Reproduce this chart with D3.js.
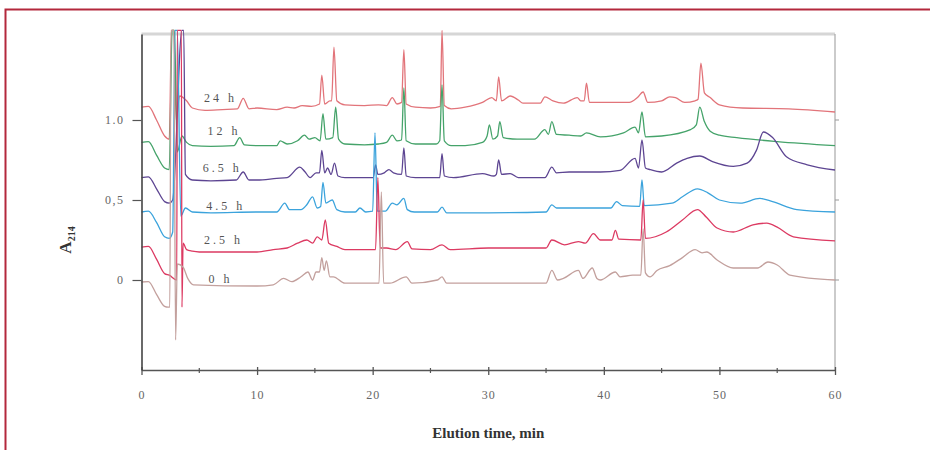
<!DOCTYPE html>
<html>
<head>
<meta charset="utf-8">
<script src="https://cdn.jsdelivr.net/npm/d3@7"></script>
<style>
  body { margin: 0; background: #fff; }
  svg { display: block; font-family: "Liberation Serif", "Times New Roman", serif; }
</style>
</head>
<body>
<div id="chart"></div>
<script>
// [elution time (min), A214]
const trace24h = [
  [0,1.08],[0.6,1.085],[1.3,1.0],[2.0,0.9],[2.4,0.88],[2.6,1.56],[2.8,1.56],[3.0,1.0],[3.3,1.15],[3.9,1.12],
  [4.4,1.075],[5.5,1.06],[7.0,1.065],[8.3,1.07],[8.8,1.135],[9.3,1.07],[10,1.075],[11.7,1.065],[12.6,1.08],
  [13.2,1.075],[13.9,1.09],[14.7,1.085],[15.4,1.1],[15.6,1.28],[15.85,1.1],[16.3,1.12],[16.45,1.12],[16.65,1.456],
  [16.9,1.12],[17.6,1.094],[19.3,1.09],[20.5,1.095],[21.2,1.09],[21.7,1.14],[22.1,1.1],[22.5,1.11],[22.7,1.44],
  [22.9,1.1],[23.7,1.08],[25.0,1.075],[25.85,1.085],[26.0,1.56],[26.2,1.09],[26.8,1.07],[28,1.08],[29.5,1.11],
  [30.3,1.14],[30.7,1.12],[30.9,1.27],[31.15,1.12],[31.9,1.15],[32.6,1.125],[33.0,1.105],[34.5,1.105],
  [34.9,1.145],[35.6,1.12],[36.5,1.105],[37.7,1.14],[38.0,1.12],[38.3,1.12],[38.5,1.23],[38.75,1.11],[39.7,1.11],
  [42.2,1.11],[42.9,1.14],[43.4,1.175],[43.8,1.11],[45.0,1.12],[45.7,1.145],[46.2,1.14],[47.0,1.11],[47.9,1.12],
  [48.15,1.13],[48.4,1.355],[48.7,1.17],[49.2,1.14],[50.0,1.095],[52,1.075],[56,1.07],[60,1.05]
];
const trace12h = [
  [0,0.86],[0.6,0.865],[1.3,0.78],[2.0,0.7],[2.4,0.69],[2.65,1.56],[2.85,1.56],[3.1,0.8],[3.5,0.9],[3.9,0.86],
  [4.4,0.84],[6,0.835],[8,0.84],[8.5,0.89],[8.9,0.845],[10,0.84],[11.7,0.84],[12.0,0.87],[12.6,0.85],[13.5,0.87],
  [14.1,0.905],[14.5,0.88],[15.0,0.89],[15.45,0.87],[15.7,1.04],[15.95,0.88],[16.55,0.89],[16.8,1.08],[17.05,0.88],
  [17.6,0.85],[19.3,0.845],[20.5,0.85],[21.2,0.86],[21.7,0.905],[22.1,0.87],[22.5,0.875],[22.7,1.2],[22.9,0.87],
  [23.7,0.85],[25.5,0.85],[25.8,0.87],[26.0,1.22],[26.2,0.87],[26.8,0.84],[28,0.84],[29.5,0.86],[29.9,0.9],
  [30.1,0.97],[30.4,0.88],[30.8,0.9],[31.0,0.99],[31.3,0.89],[32.5,0.88],[34.0,0.88],[34.9,0.94],[35.2,0.91],
  [35.5,0.99],[35.9,0.91],[37,0.905],[38,0.9],[38.5,0.92],[39.7,0.895],[41.7,0.92],[42.7,0.955],[43.0,0.92],
  [43.3,1.05],[43.6,0.895],[45,0.9],[47.5,0.94],[48.0,0.97],[48.3,1.08],[48.7,0.99],[49.2,0.93],[50.0,0.905],
  [51.5,0.89],[55,0.865],[60,0.84]
];
const trace6h5 = [
  [0,0.64],[0.6,0.645],[1.3,0.57],[2.0,0.49],[2.4,0.48],[2.7,0.5],[3.5,1.56],[3.65,1.56],[3.8,0.66],[4.4,0.625],
  [6,0.62],[8.2,0.625],[8.8,0.675],[9.3,0.625],[10,0.625],[11.7,0.635],[12.6,0.64],[13.7,0.705],[14.1,0.68],
  [14.6,0.64],[15.1,0.67],[15.4,0.67],[15.6,0.81],[15.85,0.67],[16.1,0.7],[16.4,0.66],[16.7,0.73],[17.0,0.65],
  [17.6,0.64],[20.05,0.64],[20.25,0.72],[20.45,0.66],[21.0,0.67],[21.4,0.69],[21.8,0.67],[22.5,0.66],[22.7,0.825],
  [22.9,0.65],[23.7,0.64],[25.8,0.64],[26.0,0.79],[26.2,0.65],[27,0.64],[29.5,0.665],[30.5,0.65],[30.7,0.66],
  [30.9,0.75],[31.15,0.66],[31.9,0.665],[32.6,0.64],[34.9,0.64],[35.5,0.705],[35.9,0.67],[37,0.675],[39.7,0.675],
  [41.4,0.685],[42.7,0.76],[43.0,0.7],[43.3,0.875],[43.6,0.7],[44.0,0.69],[45.0,0.675],[46.3,0.73],[47.2,0.76],
  [48.3,0.775],[49.4,0.74],[51.2,0.71],[52.4,0.73],[53.2,0.81],[53.8,0.925],[54.6,0.89],[55.8,0.77],[57.6,0.72],
  [60,0.6875]
];
const trace4h5 = [
  [0,0.425],[0.6,0.43],[1.3,0.36],[2.0,0.27],[2.4,0.26],[2.7,0.3],[2.9,1.56],[3.1,1.56],[3.4,0.4],[3.8,0.45],
  [4.4,0.425],[6,0.42],[10,0.425],[11.7,0.425],[12.4,0.48],[12.8,0.44],[13.8,0.44],[14.3,0.47],[14.8,0.52],
  [15.2,0.45],[15.5,0.46],[15.7,0.61],[15.95,0.48],[16.5,0.5],[16.9,0.44],[17.6,0.425],[18.5,0.425],[18.9,0.45],
  [19.4,0.425],[20.0,0.43],[20.2,0.92],[20.4,0.43],[21.1,0.43],[21.7,0.48],[22.1,0.47],[22.7,0.51],[23.0,0.44],
  [23.6,0.425],[25.6,0.425],[26.0,0.455],[26.4,0.42],[30,0.42],[35,0.425],[35.5,0.47],[35.9,0.45],[39.7,0.45],
  [40.6,0.45],[41.1,0.49],[41.6,0.465],[43.1,0.46],[43.3,0.625],[43.5,0.465],[45.9,0.48],[46.8,0.52],[48.1,0.57],
  [49.0,0.545],[50.0,0.5],[51.8,0.48],[53.5,0.51],[54.6,0.49],[56.7,0.44],[60,0.425]
];
const trace2h5 = [
  [0,0.205],[0.6,0.21],[1.3,0.13],[2.0,0.04],[2.4,0.03],[3.05,0.0],[3.1,1.56],[3.45,1.56],[3.5,-0.17],[3.6,0.23],
  [3.9,0.19],[4.4,0.18],[5,0.175],[10,0.175],[11.4,0.19],[12.6,0.2],[13.5,0.23],[14.3,0.25],[14.8,0.23],[15.2,0.27],
  [15.6,0.25],[15.9,0.375],[16.2,0.23],[16.9,0.21],[17.6,0.19],[20.25,0.19],[20.45,0.64],[20.65,0.2],[21.2,0.2],
  [22.0,0.19],[23.0,0.24],[23.4,0.195],[25,0.19],[26.0,0.22],[26.7,0.19],[30,0.2],[35,0.2],[35.5,0.25],[36.6,0.22],
  [37.8,0.24],[38.4,0.23],[39.1,0.29],[39.7,0.25],[40.7,0.25],[41.0,0.31],[41.3,0.255],[43.2,0.25],[43.4,0.5],
  [43.6,0.26],[45.4,0.3],[46.8,0.375],[48.1,0.44],[48.9,0.39],[49.8,0.325],[51.2,0.3],[52.9,0.345],[54.1,0.355],
  [55.0,0.33],[56.4,0.27],[60,0.245]
];
const trace0h = [
  [0,-0.0125],[0.6,-0.01],[1.3,-0.09],[2.0,-0.165],[2.3,-0.17],[2.45,-0.17],[2.55,1.56],[2.8,1.56],[2.95,-0.375],
  [3.1,0.1],[3.6,0.08],[4.0,0.01],[4.5,-0.03],[10,-0.0375],[11.4,-0.03],[12.3,0.01],[13.0,-0.01],[13.8,0.02],
  [14.4,0.05],[14.8,0.0],[15.1,0.05],[15.4,0.05],[15.6,0.14],[15.8,0.06],[16.0,0.12],[16.3,0.02],[16.6,0.02],
  [17.6,-0.02],[20.55,-0.02],[20.75,0.55],[20.95,-0.02],[21.5,-0.02],[22.9,0.02],[23.4,-0.02],[25.6,0.0],[26.0,0.02],
  [26.4,-0.02],[35,-0.02],[35.5,0.06],[36.0,0.0],[36.5,0.01],[37.8,0.06],[38.2,0.01],[39.0,0.075],[39.4,0.01],
  [39.7,0.0],[41.0,0.05],[41.4,0.02],[42.5,0.03],[43.2,0.03],[43.4,0.32],[43.6,0.045],[44.0,0.02],[44.6,0.06],
  [45.7,0.09],[46.8,0.14],[47.9,0.19],[48.5,0.17],[48.9,0.175],[49.8,0.125],[51.2,0.075],[53.3,0.075],[54.2,0.1125],
  [55.0,0.094],[56.1,0.031],[60,0.0]
];

const seriesNames = ["24 h", "12 h", "6.5 h", "4.5 h", "2.5 h", "0 h"];
const seriesTraces = [trace24h, trace12h, trace6h5, trace4h5, trace2h5, trace0h];
const seriesColors = ["#e2747a", "#45a36a", "#5d4592", "#3ba3dc", "#dc3a62", "#c3a09d"];

const xMajorTicks = [0, 10, 20, 30, 40, 50, 60];
const xMinorTicks = [5, 15, 25, 35, 45, 55];
const yTicks = [0, 0.5, 1.0];
const yTickLabels = ["0", "0,5", "1.0"];

const width = 930;
const height = 450;
const margin = { top: 34, right: 95, bottom: 80, left: 141.5 };

const x = d3.scaleLinear().domain([0, 60]).range([margin.left, width - margin.right]);
const y = d3.scaleLinear().domain([-0.5625, 1.5375]).range([height - margin.bottom, margin.top]);

const svg = d3.select("#chart").append("svg")
  .attr("width", width)
  .attr("height", height);

// page frame (top and left edges of the scanned figure box)
svg.append("path")
  .attr("d", `M5.5,${height} V9.5 H${width}`)
  .attr("fill", "none")
  .attr("stroke", "#b3283c")
  .attr("stroke-width", 2);

// plot frame: light top, grey right
svg.append("line")
  .attr("x1", margin.left).attr("x2", width - margin.right)
  .attr("y1", margin.top).attr("y2", margin.top)
  .attr("stroke", "#d6d6d6").attr("stroke-width", 3);
svg.append("line")
  .attr("x1", width - margin.right).attr("x2", width - margin.right)
  .attr("y1", margin.top).attr("y2", height - margin.bottom)
  .attr("stroke", "#a8a8a8").attr("stroke-width", 1.2);

// traces
const line = d3.line()
  .curve(d3.curveMonotoneX)
  .x((d) => x(d[0]))
  .y((d) => y(d[1]));
svg.append("g")
  .selectAll("path")
  .data(seriesTraces)
  .join("path")
  .attr("fill", "none")
  .attr("stroke", (d, i) => seriesColors[i])
  .attr("stroke-width", 1.3)
  .attr("stroke-linejoin", "round")
  .attr("d", line);

// series labels, just left of each baseline
const labelAt = [[5.4, 1.1125], [5.7, 0.905], [5.3, 0.675], [5.6, 0.4375], [5.4, 0.225], [5.8, -0.02]];
svg.append("g")
  .selectAll("text")
  .data(seriesNames)
  .join("text")
  .attr("x", (d, i) => x(labelAt[i][0]))
  .attr("y", (d, i) => y(labelAt[i][1]))
  .attr("font-size", 12)
  .attr("letter-spacing", 3)
  .attr("fill", "#555")
  .text((d) => d);

// x axis
const xAxisG = svg.append("g")
  .attr("transform", `translate(0,${height - margin.bottom})`)
  .call(d3.axisBottom(x).tickValues(xMajorTicks).tickSize(5).tickSizeOuter(0)
    .tickPadding(15).tickFormat(d3.format("d")));
xAxisG.select(".domain").attr("stroke", "#555").attr("stroke-width", 1.6);
xAxisG.selectAll(".tick line").attr("y1", -3).attr("stroke", "#555").attr("stroke-width", 1.3);
xAxisG.selectAll(".tick text")
  .attr("font-family", "Liberation Serif, serif")
  .attr("font-size", 12)
  .attr("letter-spacing", 1)
  .attr("fill", "#666");
xAxisG.append("g")
  .selectAll("line")
  .data(xMinorTicks)
  .join("line")
  .attr("x1", (d) => x(d)).attr("x2", (d) => x(d))
  .attr("y1", -2).attr("y2", 3)
  .attr("stroke", "#555").attr("stroke-width", 1.2);

// y axis
const yAxisG = svg.append("g")
  .attr("transform", `translate(${margin.left},0)`)
  .call(d3.axisLeft(y).tickValues(yTicks).tickSize(9).tickSizeOuter(0).tickPadding(8)
    .tickFormat((d, i) => yTickLabels[i]));
yAxisG.select(".domain").attr("stroke", "#444").attr("stroke-width", 1.6);
yAxisG.selectAll(".tick line").attr("stroke", "#555").attr("stroke-width", 1.2);
yAxisG.selectAll(".tick text")
  .attr("font-family", "Liberation Serif, serif")
  .attr("font-size", 12)
  .attr("letter-spacing", 1.5)
  .attr("fill", "#666");

// small ticks on the right frame
svg.append("g")
  .selectAll("line")
  .data(yTicks)
  .join("line")
  .attr("x1", width - margin.right).attr("x2", width - margin.right + 4)
  .attr("y1", (d) => y(d)).attr("y2", (d) => y(d))
  .attr("stroke", "#999");

// axis titles
svg.append("text")
  .attr("x", (margin.left + width - margin.right) / 2)
  .attr("y", 438)
  .attr("text-anchor", "middle")
  .attr("font-size", 15)
  .attr("font-weight", "bold")
  .attr("fill", "#333")
  .text("Elution time, min");

const yTitle = svg.append("text")
  .attr("transform", "translate(71,240) rotate(-90)")
  .attr("text-anchor", "middle")
  .attr("font-size", 17)
  .attr("font-weight", "bold")
  .attr("fill", "#333");
yTitle.append("tspan").text("A");
yTitle.append("tspan").attr("font-size", 10).attr("dy", 4).text("214");
</script>
</body>
</html>
